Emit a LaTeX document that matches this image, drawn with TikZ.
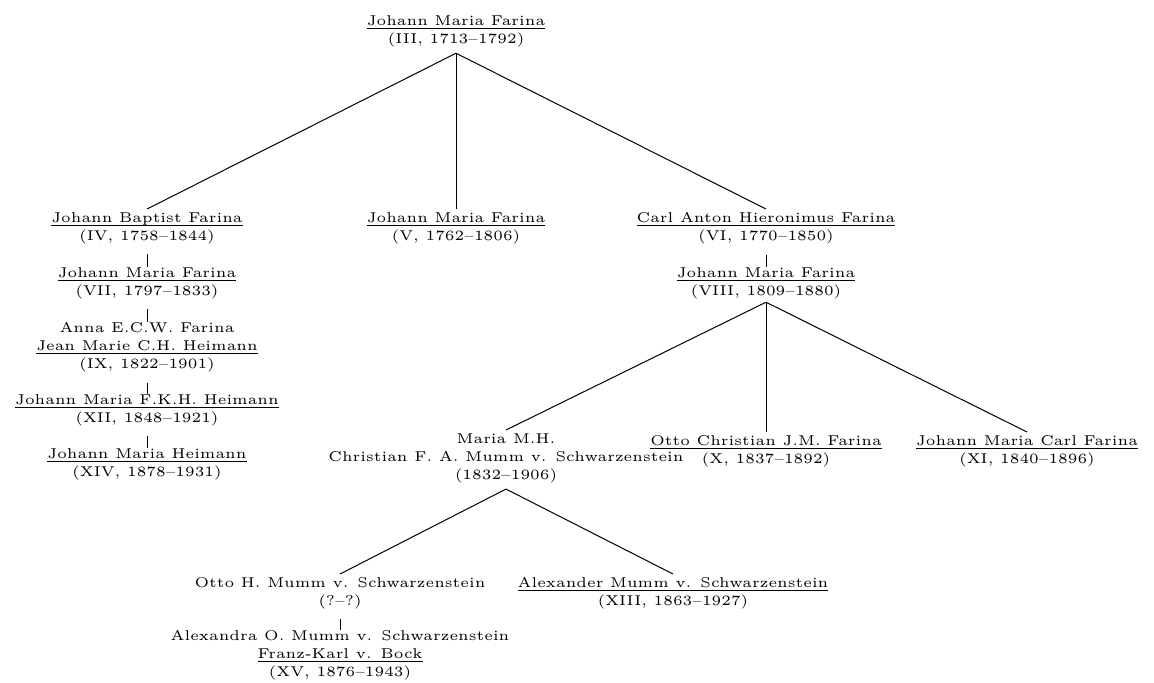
\documentclass[tikz,border=0pt]{standalone}
\usepackage{fontspec}
\newfontfamily\treefont{lmroman5-regular}[Extension=.otf]
\newcommand\nm[1]{\setbox0\hbox{#1}\rlap{\rule[-1.8pt]{\wd0}{0.45pt}}\box0}
\begin{document}
\begin{tikzpicture}[x=0.5pt,y=-0.5pt,
  person/.style={align=center, inner xsep=0pt, inner ysep=1.5pt, anchor=north,
    font=\treefont\fontsize{7.1pt}{9pt}\selectfont},
  link/.style={line width=0.5pt},
  bar/.style={line width=0.5pt, shorten <=3.5pt, shorten >=-1.5pt}]
\useasboundingbox (0,0) rectangle (1154,682);

\node[person] (n3) at (456,12) {\nm{Johann Maria Farina}\\(III, 1713–1792)};
\node[person] (n4) at (147,209) {\nm{Johann Baptist Farina}\\(IV, 1758–1844)};
\node[person] (n5) at (456,209) {\nm{Johann Maria Farina}\\(V, 1762–1806)};
\node[person] (n6) at (766,209) {\nm{Carl Anton Hieronimus Farina}\\(VI, 1770–1850)};
\node[person] (n7) at (147,264) {\nm{Johann Maria Farina}\\(VII, 1797–1833)};
\node[person] (n9) at (147,319) {Anna E.C.W. Farina\\\nm{Jean Marie C.H. Heimann}\\(IX, 1822–1901)};
\node[person] (n12) at (147,391) {\nm{Johann Maria F.K.H. Heimann}\\(XII, 1848–1921)};
\node[person] (n14) at (147,445) {\nm{Johann Maria Heimann}\\(XIV, 1878–1931)};
\node[person] (n8) at (766,264) {\nm{Johann Maria Farina}\\(VIII, 1809–1880)};
\node[person] (nm) at (506,430) {Maria M.H.\\Christian F. A. Mumm v. Schwarzenstein\\(1832–1906)};
\node[person] (n10) at (766,432) {\nm{Otto Christian J.M. Farina}\\(X, 1837–1892)};
\node[person] (n11) at (1027,432) {\nm{Johann Maria Carl Farina}\\(XI, 1840–1896)};
\node[person] (no) at (340,574) {Otto H. Mumm v. Schwarzenstein\\(?–?)};
\node[person] (n13) at (673,574) {\nm{Alexander Mumm v. Schwarzenstein}\\(XIII, 1863–1927)};
\node[person] (n15) at (340,627) {Alexandra O. Mumm v. Schwarzenstein\\\nm{Franz-Karl v. Bock}\\(XV, 1876–1943)};

\draw[link] ([yshift=-1.5pt]n3.south) -- (n4.north);
\draw[link] ([yshift=-1.5pt]n3.south) -- (n5.north);
\draw[link] ([yshift=-1.5pt]n3.south) -- (n6.north);
\draw[bar] (n4.south) -- (n7.north);
\draw[bar] (n7.south) -- (n9.north);
\draw[bar] (n9.south) -- (n12.north);
\draw[bar] (n12.south) -- (n14.north);
\draw[bar] (n6.south) -- (n8.north);
\draw[link] (n8.south) -- (nm.north);
\draw[link] (n8.south) -- (n10.north);
\draw[link] (n8.south) -- (n11.north);
\draw[link] ([yshift=-1.5pt]nm.south) -- (no.north);
\draw[link] ([yshift=-1.5pt]nm.south) -- (n13.north);
\draw[bar] (no.south) -- (n15.north);
\end{tikzpicture}
\end{document}
